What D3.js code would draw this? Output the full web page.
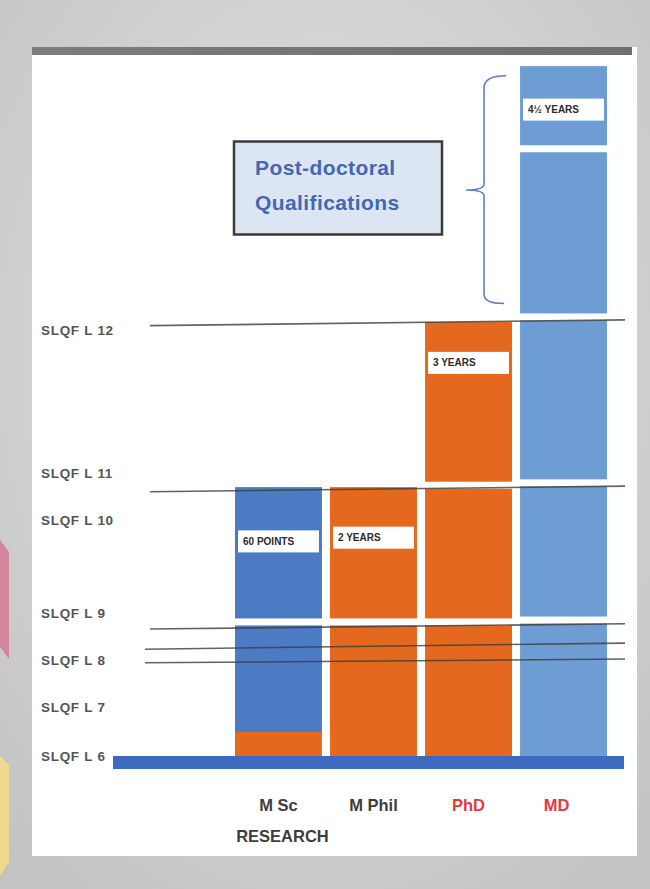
<!DOCTYPE html>
<html>
<head>
<meta charset="utf-8">
<script src="https://cdn.jsdelivr.net/npm/d3@7"></script>
<style>
  html, body { margin: 0; padding: 0; background: #d2d2d2; }
  svg { display: block; }
</style>
</head>
<body>
<svg id="chart"></svg>
<script>
// SLQF levels (row labels)
const levels = [6, 7, 8, 9, 10, 11, 12];
const levelLabels = ['SLQF L 6', 'SLQF L 7', 'SLQF L 8', 'SLQF L 9', 'SLQF L 10', 'SLQF L 11', 'SLQF L 12'];

// Programmes (columns)
const programmes = ['M Sc', 'M Phil', 'PhD', 'MD'];
const programmeSubLabels = ['RESEARCH', '', '', ''];

// Segment boundaries of each column, in SLQF level units
const mscBounds = [6, 6.49, 8.81, 10.70];
const mscKinds = ['orange', 'blue', 'blue'];
const mphilBounds = [6, 8.81, 10.70];
const mphilKinds = ['orange', 'orange'];
const phdBounds = [6, 8.81, 10.74, 12.055];
const phdKinds = ['orange', 'orange', 'orange'];
const mdBounds = [6, 8.85, 10.79, 12.09, 13.25, 13.82];
const mdKinds = ['light', 'light', 'light', 'light', 'light'];

// Duration tags in each column
const durationLabels = ['60 POINTS', '2 YEARS', '3 YEARS', '4½ YEARS'];
const durationLevels = [9.77, 9.81, 11.77, 13.52];

// Level boundary lines (slightly tilted): level at left end, level at right end
const lineLeftLevels = [12.03, 10.60, 8.66, 8.23, 7.94];
const lineRightLevels = [12.07, 10.72, 8.77, 8.36, 8.02];

// Post-doctoral brace range (levels)
const braceFrom = 12.19;
const braceTo = 13.74;

const W = 650, H = 889;
const colors = {
  orange: '#e4691f',
  blue: '#4b7cc3',
  light: '#6d9dd3',
  base: '#3d69bf',
  red: '#e8383f',
  label: '#555555'
};

const svg = d3.select('#chart').attr('width', W).attr('height', H);
const defs = svg.append('defs');
const bg = defs.append('radialGradient').attr('id', 'bg').attr('cx', '50%').attr('cy', '40%').attr('r', '75%');
bg.append('stop').attr('offset', '0%').attr('stop-color', '#e3e3e3');
bg.append('stop').attr('offset', '100%').attr('stop-color', '#c3c3c3');
const topBar = defs.append('linearGradient').attr('id', 'topbar');
topBar.append('stop').attr('offset', '0%').attr('stop-color', '#7c7c7c');
topBar.append('stop').attr('offset', '100%').attr('stop-color', '#6f6f6f');

svg.append('rect').attr('width', W).attr('height', H).attr('fill', 'url(#bg)');

// little slide decorations on the left edge
svg.append('polygon').attr('points', '0,540 9,552 9,659 0,647').attr('fill', '#d4869d');
svg.append('polygon').attr('points', '0,756 9,765 9,862 0,876').attr('fill', '#f1d88c');

// white panel + dark top strip
svg.append('rect').attr('x', 32).attr('y', 47).attr('width', 605).attr('height', 809).attr('fill', '#fff');
svg.append('rect').attr('x', 32).attr('y', 47).attr('width', 600).attr('height', 8).attr('fill', 'url(#topbar)');

const y = d3.scaleLinear()
  .domain([6, 7, 8, 9, 10, 11, 12, 14])
  .range([756, 707, 660, 613, 520, 473, 330, 40]);

const x = d3.scaleBand()
  .domain(programmes)
  .range([235, 607])
  .paddingInner(0.085);

// Level labels
svg.append('g').selectAll('text')
  .data(levels)
  .enter().append('text')
  .attr('x', 41)
  .attr('y', d => y(d))
  .attr('dy', '0.35em')
  .attr('font-family', 'Liberation Sans, Arial, sans-serif')
  .attr('font-weight', 'bold')
  .attr('font-size', 13.5)
  .attr('letter-spacing', 0.7)
  .attr('fill', colors.label)
  .text((d, i) => levelLabels[i]);

// Column segments
const columns = [
  { name: 'M Sc', bounds: mscBounds, kinds: mscKinds },
  { name: 'M Phil', bounds: mphilBounds, kinds: mphilKinds },
  { name: 'PhD', bounds: phdBounds, kinds: phdKinds },
  { name: 'MD', bounds: mdBounds, kinds: mdKinds }
];
const gap = 3.5;
const segs = [];
columns.forEach(c => {
  c.kinds.forEach((k, i) => {
    const gapBelow = i > 0 && c.kinds[i - 1] === k ? gap : 0;
    const gapAbove = i < c.kinds.length - 1 && c.kinds[i + 1] === k ? gap : 0;
    segs.push({ name: c.name, lo: c.bounds[i], hi: c.bounds[i + 1], kind: k, gapBelow, gapAbove });
  });
});

svg.append('g').selectAll('rect')
  .data(segs)
  .enter().append('rect')
  .attr('x', d => x(d.name))
  .attr('width', x.bandwidth())
  .attr('y', d => y(d.hi) + d.gapAbove)
  .attr('height', d => y(d.lo) - y(d.hi) - d.gapAbove - d.gapBelow)
  .attr('fill', d => colors[d.kind]);

// Level boundary lines
svg.append('g').selectAll('line')
  .data(lineLeftLevels)
  .enter().append('line')
  .attr('x1', (d, i) => i < 3 ? 150 : 145)
  .attr('x2', 625)
  .attr('y1', d => y(d))
  .attr('y2', (d, i) => y(lineRightLevels[i]))
  .attr('stroke', '#3c3c3c')
  .attr('stroke-opacity', 0.8)
  .attr('stroke-width', 1.6);

// Baseline bar
svg.append('rect')
  .attr('x', 113)
  .attr('y', y(6))
  .attr('width', 511)
  .attr('height', 13)
  .attr('fill', colors.base);

// Duration tags
const tags = svg.append('g').selectAll('g')
  .data(durationLabels)
  .enter().append('g')
  .attr('transform', (d, i) => `translate(${x(programmes[i]) + 3},${y(durationLevels[i]) - 11})`);
tags.append('rect')
  .attr('width', x.bandwidth() - 6)
  .attr('height', 22)
  .attr('fill', '#fff');
tags.append('text')
  .attr('x', 5)
  .attr('y', 11)
  .attr('dy', '0.35em')
  .attr('font-family', 'Liberation Sans, Arial, sans-serif')
  .attr('font-weight', 'bold')
  .attr('font-size', 10)
  .attr('fill', '#2b2b2b')
  .text(d => d);

// Post-doctoral brace beside MD
const bx = x('MD') - 36;
const yTop = y(braceTo), yBot = y(braceFrom), yMid = (yTop + yBot) / 2;
const brace = d3.path();
brace.moveTo(bx + 22, yTop - 2);
brace.quadraticCurveTo(bx, yTop - 2, bx, yTop + 10);
brace.lineTo(bx, yMid - 6);
brace.quadraticCurveTo(bx, yMid, bx - 18, yMid);
brace.quadraticCurveTo(bx, yMid, bx, yMid + 6);
brace.lineTo(bx, yBot - 8);
brace.quadraticCurveTo(bx, yBot + 1, bx + 20, yBot + 1);
svg.append('path')
  .attr('d', brace.toString())
  .attr('fill', 'none')
  .attr('stroke', '#5a78c6')
  .attr('stroke-width', 1.5);

// Post-doctoral qualifications box
const box = svg.append('g').attr('transform', `translate(${x('M Sc') - 1},${y(13.3)})`);
box.append('rect')
  .attr('width', 208)
  .attr('height', 93)
  .attr('fill', '#dce6f3')
  .attr('stroke', '#3a3a3a')
  .attr('stroke-width', 2.5);
box.append('text')
  .attr('font-family', 'Liberation Sans, Arial, sans-serif')
  .attr('font-weight', 'bold')
  .attr('font-size', 21)
  .attr('letter-spacing', 0.4)
  .attr('fill', '#4467b2')
  .selectAll('tspan')
  .data(['Post-doctoral', 'Qualifications'])
  .enter().append('tspan')
  .attr('x', 21)
  .attr('y', (d, i) => 33 + i * 35)
  .text(d => d);

// Programme labels
const progLabels = svg.append('g')
  .attr('font-family', 'Liberation Sans, Arial, sans-serif')
  .attr('font-weight', 'bold')
  .attr('font-size', 16.5)
  .attr('text-anchor', 'middle');
progLabels.selectAll('text.prog')
  .data(programmes)
  .enter().append('text')
  .attr('class', 'prog')
  .attr('x', d => x(d) + x.bandwidth() / 2 + (d === 'MD' ? -7 : 0))
  .attr('y', 811)
  .attr('fill', d => (d === 'PhD' || d === 'MD') ? colors.red : '#3d3d3d')
  .text(d => d);
progLabels.selectAll('text.sub')
  .data(programmeSubLabels.filter(s => s))
  .enter().append('text')
  .attr('class', 'sub')
  .attr('x', x('M Sc') + x.bandwidth() / 2 + 4)
  .attr('y', 842)
  .attr('fill', '#3d3d3d')
  .text(d => d);
</script>
</body>
</html>
